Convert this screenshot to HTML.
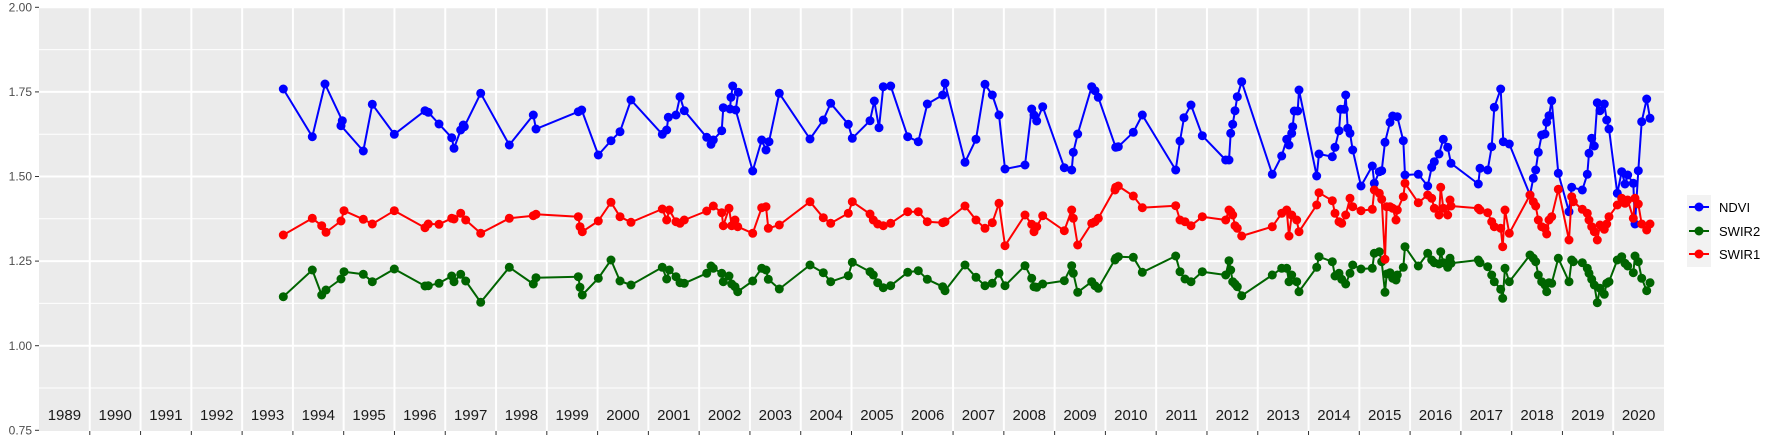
<!DOCTYPE html>
<html><head><meta charset="utf-8"><style>
html,body{margin:0;padding:0;background:#fff;}
svg{display:block;font-family:"Liberation Sans",sans-serif;}
</style></head><body>
<svg id="s" width="1773" height="442" xmlns="http://www.w3.org/2000/svg">
<rect x="0" y="0" width="1773" height="442" fill="#fff"/>
<rect x="39" y="7" width="1625" height="424" fill="#EBEBEB"/>
<g id="grid"></g>
<g id="data"></g>
<g id="axes" font-size="12" fill="#4D4D4D" text-anchor="end">
<text x="32" y="11.5">2.00</text>
<text x="32" y="96">1.75</text>
<text x="32" y="180.5">1.50</text>
<text x="32" y="265">1.25</text>
<text x="32" y="350">1.00</text>
<text x="32" y="434.5">0.75</text>
</g>
<g id="legend">
<rect x="1687" y="195" width="24" height="72" fill="#F2F2F2"/>
<line x1="1689" y1="207" x2="1709" y2="207" stroke="#0000FF" stroke-width="2"/><circle cx="1699" cy="207" r="4.5" fill="#0000FF"/>
<line x1="1689" y1="231" x2="1709" y2="231" stroke="#006400" stroke-width="2"/><circle cx="1699" cy="231" r="4.5" fill="#006400"/>
<line x1="1689" y1="254" x2="1709" y2="254" stroke="#FF0000" stroke-width="2"/><circle cx="1699" cy="254" r="4.5" fill="#FF0000"/>
<text x="1719" y="212" font-size="13" fill="#000">NDVI</text>
<text x="1719" y="236" font-size="13" fill="#000">SWIR2</text>
<text x="1719" y="259" font-size="13" fill="#000">SWIR1</text>
</g>
</svg>
<script>
var NS="http://www.w3.org/2000/svg";
function el(p,n,a,t){var e=document.createElementNS(NS,n);for(var k in a)e.setAttribute(k,a[k]);if(t!==undefined)e.textContent=t;p.appendChild(e);return e;}
var g=document.getElementById("grid");
function Y(v){return 7.3+(2-v)*338.4;}
[1.875,1.625,1.375,1.125,0.875].forEach(function(v){el(g,"line",{x1:39,x2:1664,y1:Y(v),y2:Y(v),stroke:"#fff","stroke-width":1});});
[2,1.75,1.5,1.25,1.0].forEach(function(v){el(g,"line",{x1:39,x2:1664,y1:Y(v),y2:Y(v),stroke:"#fff","stroke-width":2});});
var ax=document.getElementById("axes");
[2,1.75,1.5,1.25,1.0,0.75].forEach(function(v){el(ax,"line",{x1:35,x2:39,y1:Y(v),y2:Y(v),stroke:"#333","stroke-width":1});});
var step=1625/32;
for(var i=1;i<32;i++){var x=39+i*step;el(g,"line",{x1:x,x2:x,y1:7,y2:431,stroke:"#fff","stroke-width":2});el(ax,"line",{x1:x,x2:x,y1:431,y2:435,stroke:"#333","stroke-width":1});}
for(var i=0;i<32;i++){el(g,"text",{x:39+(i+0.5)*step,y:420,"font-size":"15","text-anchor":"middle",fill:"#1a1a1a"},String(1989+i));}
var Z=[
[270,{b:[[40,27],[127,170],[165,12],[217,122],[213,137],[280,213],[307,73],[373,163],[465,92],[475,97],[507,132],[545,173],[552,205],[572,150],[580,135],[583,140],[632,40],[718,195],[790,105],[798,147]],
r:[[40,465],[127,415],[155,437],[168,457],[213,423],[222,392],[280,418],[307,432],[373,392],[465,443],[475,432],[507,433],[545,415],[552,417],[572,400],[587,420],[632,460],[718,415],[790,407],[798,403]],
g:[[40,650],[127,570],[155,645],[168,630],[213,597],[222,575],[280,583],[307,605],[373,567],[465,618],[475,617],[507,610],[545,588],[552,605],[572,583],[587,603],[632,667],[718,562],[790,612],[798,593]]}],
[550,{b:[[85,95],[95,90],[145,225],[183,182],[210,155],[243,60],[337,163],[350,150],[355,112],[378,105],[390,50],[403,92],[470,172],[483,193],[490,180],[515,152],[520,83],[540,87],[543,52],[548,18],[565,37],[557,90],[608,273],[635,180],[648,210],[657,185],[688,40],[780,177],[820,120],[842,70]],
r:[[85,410],[90,440],[97,455],[145,423],[183,367],[210,410],[243,427],[337,387],[350,420],[358,390],[378,425],[390,430],[403,420],[470,393],[490,378],[515,398],[520,437],[537,385],[545,437],[555,420],[563,440],[608,460],[635,383],[648,380],[655,445],[688,435],[780,365],[820,413],[842,430]],
g:[[85,590],[90,622],[97,645],[145,595],[183,540],[210,603],[243,615],[337,562],[350,597],[358,570],[378,590],[390,608],[403,610],[470,580],[483,558],[490,565],[515,580],[520,605],[537,588],[545,612],[555,620],[563,635],[608,603],[635,565],[648,570],[655,598],[688,627],[780,555],[820,578],[842,605]]}],
[830,{b:[[55,133],[67,175],[120,122],[133,63],[147,143],[160,20],[182,18],[233,170],[265,185],[292,72],[338,45],[345,10],[405,247],[438,178],[465,13],[487,45],[507,105],[525,267],[585,255],[605,87],[612,105],[620,123],[638,80],[703,263],[725,270],[730,217],[743,162],[785,20],[795,32],[805,52],[857,202]],
r:[[55,400],[67,365],[120,402],[130,420],[143,432],[160,437],[182,430],[233,395],[265,395],[292,425],[338,428],[345,425],[405,378],[438,420],[465,445],[487,428],[507,370],[525,497],[585,405],[605,433],[612,455],[620,440],[638,407],[703,452],[725,390],[730,415],[743,495],[785,430],[795,425],[805,415],[857,322]],
g:[[55,587],[67,547],[120,575],[130,585],[143,608],[160,623],[182,617],[233,577],[265,572],[292,598],[338,620],[345,632],[405,555],[438,592],[465,617],[487,610],[507,580],[525,617],[585,557],[605,595],[612,620],[620,622],[638,612],[703,602],[725,557],[730,580],[743,637],[785,605],[795,617],[805,625],[857,535]]}],
[1110,{b:[[25,200],[70,157],[97,105],[197,270],[210,183],[222,113],[243,75],[277,167],[347,240],[357,240],[362,160],[368,133],[375,92],[382,50],[395,5],[487,283],[515,228],[530,178],[537,195],[545,160],[548,140],[553,93],[563,93],[567,30],[620,288],[627,222],[667,230],[675,202],[687,152],[692,88],[703,88],[707,45],[713,145],[720,160],[728,210],[753,318],[787,258],[793,310],[808,275],[815,272],[825,187],[840,127],[848,108],[862,110]],
r:[[15,330],[25,318],[70,348],[97,383],[197,377],[210,420],[225,425],[243,437],[277,410],[347,420],[357,390],[362,395],[368,405],[375,437],[382,445],[395,468],[487,440],[515,400],[530,390],[537,468],[545,405],[560,420],[567,455],[620,375],[627,338],[667,362],[675,400],[687,425],[695,430],[707,405],[720,355],[728,380],[753,392],[787,388],[793,330],[808,340],[815,358],[825,538],[830,380],[840,380],[848,385],[858,420],[862,390]],
g:[[15,540],[25,530],[70,532],[97,577],[197,528],[210,575],[225,597],[243,605],[277,575],[347,585],[357,542],[362,570],[368,605],[375,612],[382,620],[395,647],[487,585],[515,565],[530,565],[537,605],[545,585],[560,605],[567,635],[620,562],[627,530],[667,545],[675,588],[687,580],[695,598],[707,612],[720,580],[728,555],[753,567],[787,565],[793,520],[808,515],[815,545],[825,637],[830,582],[840,578],[848,595],[858,600],[862,585]]}],
[1390,{b:[[40,182],[45,285],[85,283],[113,318],[125,262],[133,245],[147,222],[160,178],[173,202],[183,250],[265,312],[270,265],[293,270],[305,200],[313,82],[332,27],[340,185],[358,192],[420,345],[430,295],[437,270],[445,217],[455,165],[465,162],[470,127],[477,107],[485,62],[505,280],[537,395],[545,322],[577,330],[592,283],[597,220],[605,175],[613,198],[622,68],[630,92],[643,72],[650,120],[657,147],[682,340],[695,275],[705,312],[713,285],[730,310],[735,432],[745,272],[755,125],[770,57],[780,115]],
r:[[40,350],[45,310],[85,368],[113,345],[125,355],[133,385],[147,405],[152,322],[160,385],[173,405],[180,360],[183,378],[265,385],[270,390],[293,398],[305,425],[313,440],[332,445],[338,500],[345,390],[358,460],[420,345],[430,365],[437,378],[445,420],[455,440],[465,445],[470,462],[477,420],[485,410],[505,328],[537,480],[545,350],[550,365],[577,388],[592,400],[597,420],[605,440],[613,455],[622,480],[630,435],[643,448],[650,432],[657,410],[682,375],[695,355],[705,370],[713,360],[730,415],[735,355],[745,372],[755,432],[770,450],[780,432]],
g:[[40,562],[45,500],[85,558],[113,520],[125,540],[133,548],[147,552],[152,515],[160,548],[173,562],[180,535],[183,550],[265,540],[270,548],[293,560],[305,585],[313,605],[332,628],[338,655],[345,565],[358,605],[420,525],[430,535],[437,545],[445,585],[455,605],[465,615],[470,635],[477,608],[485,610],[505,535],[537,605],[545,540],[550,545],[577,548],[592,565],[597,580],[605,598],[613,615],[622,668],[630,625],[643,643],[650,610],[657,605],[682,540],[695,530],[705,550],[713,558],[730,578],[735,528],[745,545],[755,595],[770,632],[780,608]]}]
];
var cols={b:"#0000FF",g:"#006400",r:"#FF0000"};
var d=document.getElementById("data");
["b","g","r"].forEach(function(k){
  var pts=[];
  Z.forEach(function(z){z[1][k].forEach(function(p){pts.push([z[0]+p[0]/3,80+p[1]/3]);});});
  el(d,"polyline",{points:pts.map(function(p){return p[0].toFixed(1)+","+p[1].toFixed(1);}).join(" "),fill:"none",stroke:cols[k],"stroke-width":2,"stroke-linejoin":"round"});
  pts.forEach(function(p){el(d,"circle",{cx:p[0].toFixed(1),cy:p[1].toFixed(1),r:4.5,fill:cols[k]});});
});
</script>
</body></html>
